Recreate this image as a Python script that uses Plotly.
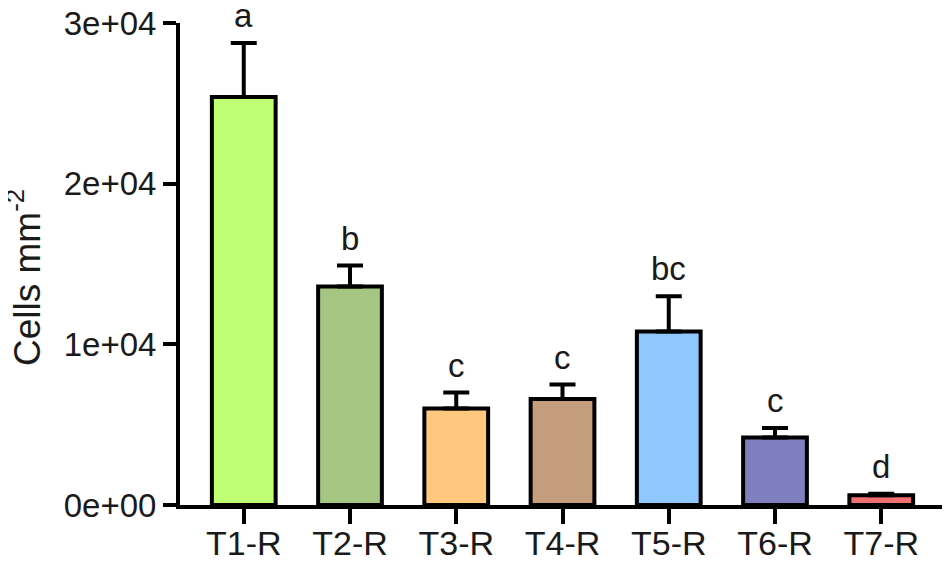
import plotly.graph_objects as go

# group means and SE (cells per mm^2)
groups = ["T1-R", "T2-R", "T3-R", "T4-R", "T5-R", "T6-R", "T7-R"]
means = [25400, 13600, 6000, 6600, 10800, 4200, 600]
errors = [3350, 1300, 1000, 900, 2200, 600, 100]
letters = ["a", "b", "c", "c", "bc", "c", "d"]
colors = ["#BEFF73", "#A5C583", "#FFC87E", "#C49E7C", "#8FC8FF", "#7F7FC0", "#F07070"]

y_ticks = [0, 10000, 20000, 30000]
y_tick_text = ["0e+00", "1e+04", "2e+04", "3e+04"]

font = "Liberation Sans, Arial, sans-serif"

fig = go.Figure()
fig.add_trace(go.Bar(
    x=groups,
    y=means,
    width=0.6,
    marker=dict(color=colors, line=dict(color="black", width=4)),
    error_y=dict(type="data", array=errors, arrayminus=[0] * len(errors),
                 symmetric=False, color="black", thickness=4, width=13),
    showlegend=False,
))

# significance letters above each error bar
for g, m, e, lab in zip(groups, means, errors, letters):
    fig.add_annotation(x=g, y=m + e, text=lab, showarrow=False,
                       yanchor="bottom", yshift=7,
                       font=dict(family=font, size=33, color="#1a1a1a"))

# y axis title as a rotated annotation so it can sit near the left edge
fig.add_annotation(xref="paper", yref="paper", x=0, y=0.5,
                   xanchor="center", yanchor="middle", xshift=-156, yshift=-14,
                   text="Cells mm<sup>-2</sup>", textangle=-90, showarrow=False,
                   font=dict(family=font, size=37, color="#1a1a1a"))

# page body has an 8px margin, so the margins are trimmed to match
fig.update_layout(
    width=950, height=565,
    margin=dict(l=172, r=13, t=15, b=68),
    plot_bgcolor="white", paper_bgcolor="white",
    font=dict(family=font, color="#1a1a1a"),
)
fig.update_xaxes(
    range=[-0.6, 6.6], showline=True, linecolor="black", linewidth=4,
    ticks="outside", ticklen=15, tickwidth=4, tickcolor="black",
    tickfont=dict(size=34), ticklabelstandoff=-10, ticklabeloverflow="allow",
    showgrid=False, zeroline=False, automargin=False,
)
fig.update_yaxes(
    range=[0, 30000], tickvals=y_ticks, ticktext=y_tick_text,
    showline=True, linecolor="black", linewidth=4,
    ticks="outside", ticklen=13, tickwidth=4, tickcolor="black",
    tickfont=dict(size=33), ticklabeloverflow="allow",
    showgrid=False, zeroline=False, automargin=False,
)

fig.write_html("out.html")
